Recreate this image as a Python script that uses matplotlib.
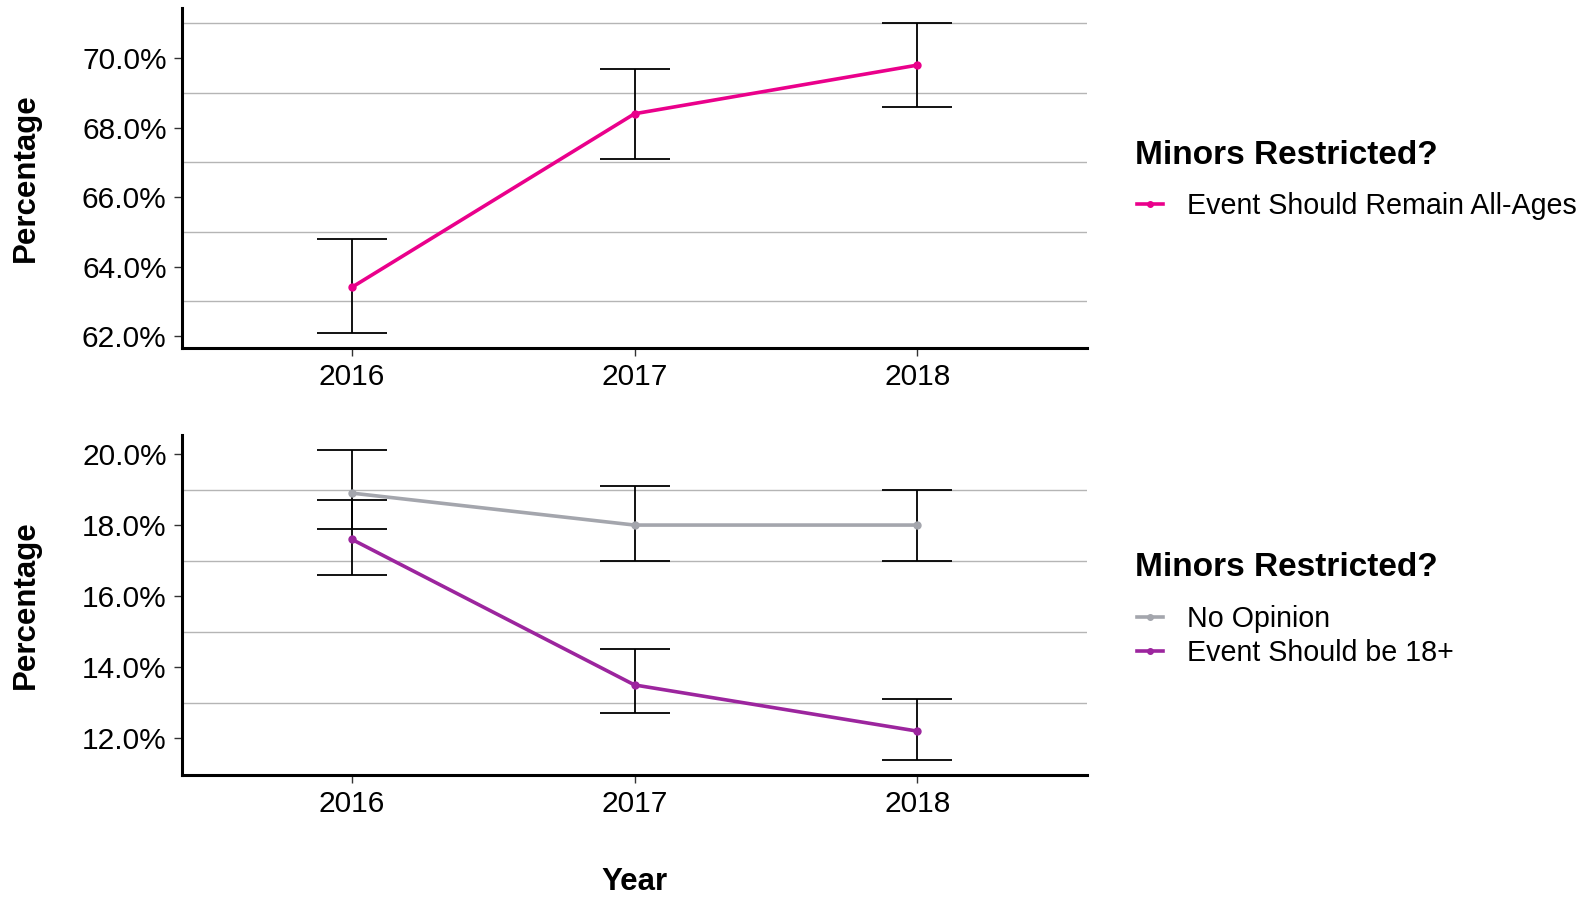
import numpy as np
import matplotlib
matplotlib.use('Agg')
import matplotlib.pyplot as plt
from matplotlib.lines import Line2D
from matplotlib.ticker import FuncFormatter

plt.rcParams['font.family'] = ['Liberation Sans', 'DejaVu Sans']

years = [2016, 2017, 2018]

# Oberes Panel: Event Should Remain All-Ages
all_ages = [63.4, 68.4, 69.8]
all_ages_hi = [64.8, 69.7, 71.0]
all_ages_lo = [62.1, 67.1, 68.6]

# Unteres Panel: No Opinion / Event Should be 18+
no_opinion = [18.9, 18.0, 18.0]
no_opinion_hi = [20.1, 19.1, 19.0]
no_opinion_lo = [17.9, 17.0, 17.0]

adults = [17.6, 13.5, 12.2]
adults_hi = [18.7, 14.5, 13.1]
adults_lo = [16.6, 12.7, 11.4]

top_ticks = [62, 64, 66, 68, 70]
top_grid = [63, 65, 67, 69, 71]
bottom_ticks = [12, 14, 16, 18, 20]
bottom_grid = [13, 15, 17, 19]

legend_title = 'Minors Restricted?'
colors = {'Event Should Remain All-Ages': '#EA008B',
          'No Opinion': '#A4A6AD',
          'Event Should be 18+': '#9C259E'}

W, H = 1585, 897
fig = plt.figure(figsize=(W / 100, H / 100), dpi=100)
ax_top = fig.add_axes([182 / W, 1 - 348 / H, 905 / W, 340 / H])
ax_bot = fig.add_axes([182 / W, 1 - 775 / H, 905 / W, 340 / H])


def draw_series(ax, y, hi, lo, name):
    y = np.array(y)
    hi = np.array(hi)
    lo = np.array(lo)
    ax.errorbar(years, y, yerr=[y - lo, hi - y], fmt='none', ecolor='black',
                elinewidth=1.3, capsize=25, capthick=1.3, zorder=3)
    ax.plot(years, y, color=colors[name], lw=2.6, marker='o', markersize=5,
            zorder=4, solid_capstyle='round')


def style_axis(ax, ticks, grid, lows, highs):
    lo = min(lows)
    hi = max(highs)
    pad = (hi - lo) * 0.05
    ax.set_ylim(lo - pad, hi + pad)
    ax.set_xlim(2015.4, 2018.6)
    ax.set_xticks(years)
    ax.set_yticks(ticks)
    ax.set_yticks(grid, minor=True)
    ax.yaxis.set_major_formatter(FuncFormatter(lambda v, p: f'{v:.1f}%'))
    ax.grid(which='minor', axis='y', color='#B5B5B5', lw=1.0, zorder=0)
    ax.tick_params(which='minor', length=0)
    ax.tick_params(which='major', length=5.5, width=1.0, labelsize=21.5,
                   pad=5.5, color='#333333')
    for s in ['top', 'right']:
        ax.spines[s].set_visible(False)
    for s in ['left', 'bottom']:
        ax.spines[s].set_linewidth(2.2)
    ax.set_ylabel('Percentage', fontsize=22.5, fontweight='bold')
    ax.yaxis.set_label_coords(-0.156, 0.5)


draw_series(ax_top, all_ages, all_ages_hi, all_ages_lo, 'Event Should Remain All-Ages')
style_axis(ax_top, top_ticks, top_grid, all_ages_lo, all_ages_hi)

draw_series(ax_bot, no_opinion, no_opinion_hi, no_opinion_lo, 'No Opinion')
draw_series(ax_bot, adults, adults_hi, adults_lo, 'Event Should be 18+')
style_axis(ax_bot, bottom_ticks, bottom_grid, adults_lo + no_opinion_lo,
           adults_hi + no_opinion_hi)

fig.text(634.5 / W, 1 - 882 / H, 'Year', fontsize=22.5, fontweight='bold',
         ha='center', va='center')


def make_legend(names, title_y, entry_y):
    fig.text(1135 / W, 1 - title_y / H, legend_title, fontsize=24,
             fontweight='bold', ha='left', va='center')
    handles = [Line2D([], [], color=colors[n], lw=2.6, marker='o', markersize=4)
               for n in names]
    fig.legend(handles, names, loc='upper left',
               bbox_to_anchor=(1137 / W, 1 - entry_y / H),
               frameon=False, fontsize=20.6, handlelength=0.9,
               handletextpad=0.85, labelspacing=0.2, borderpad=0,
               borderaxespad=0)


make_legend(['Event Should Remain All-Ages'], 156, 192)
make_legend(['No Opinion', 'Event Should be 18+'], 568, 605)

fig.savefig('out.png', dpi=100)
